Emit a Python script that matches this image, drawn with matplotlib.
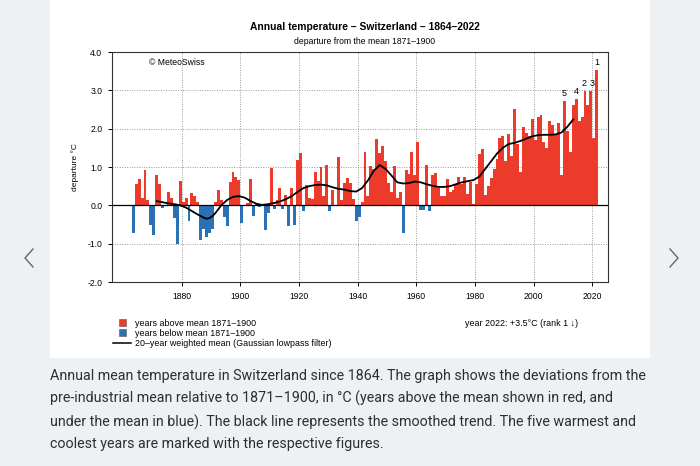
import numpy as np
import matplotlib
matplotlib.use("Agg")
import matplotlib.pyplot as plt
from matplotlib.lines import Line2D
from matplotlib.patches import Rectangle

# Annual temperature departures (deg C) from the 1871-1900 mean, Switzerland
years = list(range(1864, 2023))
anomaly = [
    -0.72, 0.55, 0.70, 0.18, 0.93, 0.15, -0.50, -0.78, 0.80, 0.55,    # 1864-1873
    -0.07, 0.02, 0.35, 0.19, -0.33, -1.02, 0.63, 0.10, 0.20, -0.41,   # 1874-1883
    0.33, 0.25, 0.10, -0.91, -0.63, -0.83, -0.72, -0.63, 0.08, 0.40,  # 1884-1893
    0.15, -0.30, -0.55, 0.60, 0.88, 0.75, 0.65, -0.46, 0.02, 0.05,    # 1894-1903
    0.70, -0.29, 0.05, -0.05, -0.03, -0.65, -0.19, 0.98, -0.10, 0.15, # 1904-1913
    0.44, -0.10, 0.26, -0.55, 0.46, -0.50, 1.19, 1.36, -0.16, 0.54,   # 1914-1923
    0.20, 0.16, 0.87, 0.63, 1.00, 0.24, 1.04, -0.16, 0.41, -0.03,     # 1924-1933
    1.26, 0.15, 0.58, 0.72, 0.58, 0.17, -0.40, -0.30, 0.10, 1.38,     # 1934-1943
    0.25, 1.03, 0.95, 1.72, 1.36, 1.55, 1.15, 0.59, 0.35, 1.02,       # 1944-1953
    0.20, 0.35, -0.72, 0.93, 0.82, 1.40, 0.80, 1.64, -0.13, -0.13,    # 1954-1963
    1.06, -0.15, 0.78, 0.84, 0.45, 0.25, 0.25, 0.70, 0.35, 0.40,      # 1964-1973
    0.55, 0.75, 0.55, 0.75, 0.30, 0.60, 0.03, 0.55, 1.34, 1.47,       # 1974-1983
    0.26, 0.50, 0.72, 0.95, 1.20, 1.75, 1.80, 1.15, 1.85, 1.30,       # 1984-1993
    2.52, 1.60, 0.88, 2.05, 1.90, 1.80, 2.25, 1.70, 2.30, 2.35,       # 1994-2003
    1.65, 1.50, 2.20, 2.10, 1.85, 2.15, 0.80, 2.72, 1.93, 1.39,       # 2004-2013
    2.61, 2.78, 2.19, 2.30, 2.98, 2.61, 2.98, 1.76, 3.54,             # 2014-2022
]

# 20-year Gaussian lowpass curve
trend_years = [1872, 1874, 1876, 1878, 1880, 1882, 1884, 1886, 1888, 1889, 1890,
               1891, 1892, 1894, 1896, 1898, 1900, 1902, 1904, 1906, 1908, 1910,
               1912, 1914, 1916, 1918, 1920, 1922, 1924, 1926, 1928, 1930, 1932,
               1934, 1936, 1938, 1940, 1942, 1944, 1946, 1948, 1950, 1952, 1954,
               1956, 1958, 1960, 1962, 1964, 1966, 1968, 1970, 1972, 1974, 1976,
               1978, 1980, 1982, 1984, 1986, 1988, 1990, 1992, 1994, 1996, 1998,
               2000, 2002, 2004, 2006, 2008, 2010, 2012, 2014]
trend = [0.11, 0.08, 0.05, 0.03, 0.00, -0.06, -0.15, -0.24, -0.32, -0.35, -0.33,
         -0.28, -0.20, 0.00, 0.14, 0.22, 0.24, 0.20, 0.11, 0.04, 0.01, 0.03,
         0.06, 0.10, 0.16, 0.24, 0.35, 0.45, 0.50, 0.53, 0.54, 0.52, 0.47,
         0.43, 0.41, 0.37, 0.36, 0.45, 0.65, 0.90, 1.05, 0.95, 0.78, 0.60,
         0.57, 0.58, 0.62, 0.60, 0.55, 0.51, 0.48, 0.48, 0.50, 0.55, 0.60,
         0.63, 0.66, 0.75, 0.95, 1.15, 1.35, 1.50, 1.60, 1.63, 1.68, 1.74,
         1.80, 1.83, 1.84, 1.84, 1.85, 1.90, 2.05, 2.24]

rank_years = [2022, 2018, 2020, 2015, 2011]
rank_labels = ['1', '2', '3', '4', '5']

red = '#ec3a2b'
blue = '#2a72b5'
bg = '#eef1f4'

fig = plt.figure(figsize=(7, 4.66), dpi=100, facecolor=bg)

# white card behind the graphic
fig.patches.append(Rectangle((50 / 700, 1 - 358 / 466), 600 / 700, 358 / 466,
                             transform=fig.transFigure, facecolor='white',
                             edgecolor='none', zorder=-5))

ax = fig.add_axes([112 / 700, 1 - 282 / 466, 496 / 700, 230 / 466])
ax.set_facecolor('white')

vals = np.array(anomaly)
colors = [red if v >= 0 else blue for v in vals]
ax.bar(years, vals, width=-1.0, align='edge', color=colors, linewidth=0, zorder=2)

ax.plot(np.array(trend_years) - 0.5, trend, color='black', lw=1.3, zorder=4)
ax.axhline(0, color='black', lw=0.9, zorder=3)

for yr, lab in zip(rank_years, rank_labels):
    v = vals[years.index(yr)]
    dx = -0.3 if lab == '2' else (0.3 if lab == '3' else 0)
    ax.text(yr - 0.5 + dx, v + 0.08, lab, ha='center', va='bottom', fontsize=6.5,
            family='Liberation Sans', zorder=5)

ax.set_xlim(1856.24, 2025.35)
ax.set_ylim(-2.0, 4.0)
ax.set_xticks(range(1880, 2021, 20))
ax.set_yticks(np.arange(-2, 4.1, 1))
ax.set_yticklabels(['%.1f' % t for t in np.arange(-2, 4.1, 1)])
ax.grid(True, color='#9a9a9a', linestyle=(0, (1, 1.5)), linewidth=0.7, zorder=1)
ax.tick_params(labelsize=6.2, length=3, width=0.7, pad=4)
for lab in ax.get_xticklabels() + ax.get_yticklabels():
    lab.set_family('Liberation Sans')
for sp in ax.spines.values():
    sp.set_linewidth(0.8)
    sp.set_color('#333333')
ax.set_ylabel('departure °C', fontsize=6, family='Liberation Sans', labelpad=6)

ax.text(0.075, 0.955, '© MeteoSwiss', transform=ax.transAxes, fontsize=6.2,
        family='Liberation Sans', va='center')

fig.text(365 / 700, 1 - 27 / 466, 'Annual temperature – Switzerland – 1864–2022',
         ha='center', va='center', fontsize=7.4, fontweight='bold', family='Liberation Sans')
fig.text(365 / 700, 1 - 41 / 466, 'departure from the mean 1871–1900',
         ha='center', va='center', fontsize=6.2, family='Liberation Sans')

# legend
fig.patches.append(Rectangle((119 / 700, 1 - 326 / 466), 7 / 700, 7 / 466,
                             transform=fig.transFigure, facecolor=red,
                             edgecolor='#555555', linewidth=0.4))
fig.patches.append(Rectangle((119 / 700, 1 - 336 / 466), 7 / 700, 7 / 466,
                             transform=fig.transFigure, facecolor=blue,
                             edgecolor='#555555', linewidth=0.4))
fig.lines.append(Line2D([113 / 700, 131 / 700], [1 - 343 / 466, 1 - 343 / 466],
                        transform=fig.transFigure, color='black', lw=1.1))
leg_font = dict(fontsize=6.4, family='Liberation Sans', va='center')
fig.text(135 / 700, 1 - 323 / 466, 'years above mean 1871–1900', **leg_font)
fig.text(135 / 700, 1 - 333 / 466, 'years below mean 1871–1900', **leg_font)
fig.text(135 / 700, 1 - 343 / 466, '20–year weighted mean (Gaussian lowpass filter)', **leg_font)
fig.text(465 / 700, 1 - 323 / 466, 'year 2022: +3.5°C (rank 1 ↓)', fontsize=6.4,
         family=['Liberation Sans', 'DejaVu Sans'], va='center')

# page navigation arrows
for x0, sgn in [(33, -1), (670, 1)]:
    fig.lines.append(Line2D([x0 / 700, (x0 + 8 * sgn) / 700, x0 / 700],
                            [1 - 249 / 466, 1 - 258 / 466, 1 - 267 / 466],
                            transform=fig.transFigure, color='#666666', lw=1.0))

caption = ("Annual mean temperature in Switzerland since 1864. The graph shows the deviations from the\n"
           "pre-industrial mean relative to 1871–1900, in °C (years above the mean shown in red, and\n"
           "under the mean in blue). The black line represents the smoothed trend. The five warmest and\n"
           "coolest years are marked with the respective figures.")
fig.text(50 / 700, 1 - 369 / 466, caption, ha='left', va='top', fontsize=10.3,
         family='Roboto', color='#2e2e2e', linespacing=1.68)

fig.savefig('out.png', dpi=100, facecolor=bg)
